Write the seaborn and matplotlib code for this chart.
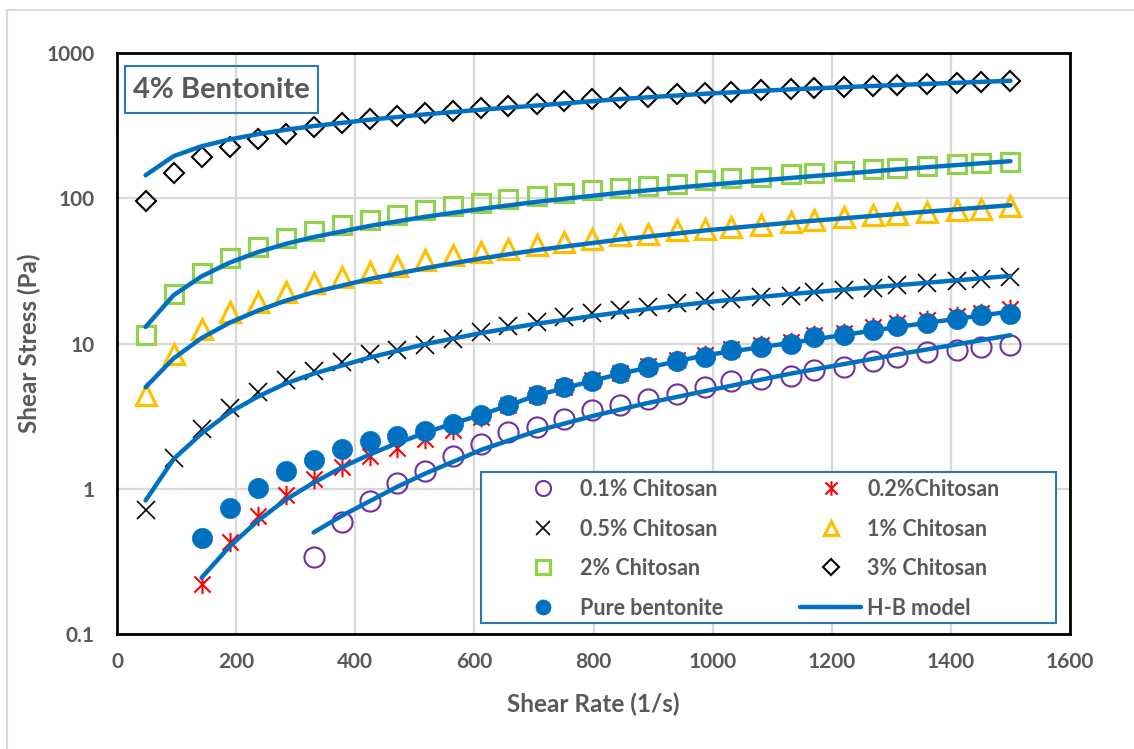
import matplotlib
matplotlib.use("Agg")
import matplotlib.pyplot as plt
from matplotlib.lines import Line2D
from matplotlib.path import Path
from matplotlib.patches import Rectangle
from matplotlib.ticker import NullLocator
import seaborn as sns

# shear rates of the measurement points (1/s)
SHEAR_RATE = [48, 95, 142, 189, 236, 283, 330, 377, 424, 470, 517, 564, 611, 657, 705, 751,
              797, 845, 892, 940, 987, 1031, 1082, 1131, 1170, 1220, 1270, 1310, 1360, 1410, 1450, 1500]

# measured shear stress (Pa)
chitosan_01 = [0.34, 0.59, 0.83, 1.1, 1.33, 1.69, 2.03, 2.44, 2.65, 3.03, 3.49, 3.8, 4.15,
               4.5, 5.0, 5.5, 5.7, 6.0, 6.6, 6.94, 7.55, 8.05, 8.72, 9.05, 9.44, 9.84]
chitosan_02 = [0.22, 0.43, 0.65, 0.9, 1.17, 1.42, 1.69, 1.9, 2.2, 2.55, 3.1, 3.75, 4.4, 5.0, 5.6,
               6.3, 6.95, 7.7, 8.3, 9.2, 9.7, 10.3, 11.4, 11.9, 12.9, 13.8, 14.4, 15.4, 16.3, 17.4]
chitosan_05 = [0.71, 1.64, 2.58, 3.58, 4.62, 5.62, 6.51, 7.43, 8.4, 9.0, 9.8, 10.8, 12.0, 13.1, 14.0,
               15.2, 16.2, 16.9, 17.8, 19.0, 19.6, 20.2, 20.9, 21.4, 22.6, 23.2, 24.2, 25.1, 26.1,
               26.9, 27.9, 28.7]
chitosan_1 = [4.4, 8.5, 12.6, 16.4, 19.3, 22.6, 25.9, 28.7, 31, 34, 37.4, 40.4, 42.6, 45, 48, 50,
              52.7, 55.6, 57.1, 60.1, 61.8, 63.4, 65.9, 68.7, 70.5, 74.3, 76.4, 78.4, 80.5, 82.7,
              84.9, 88.1]
chitosan_2 = [11.5, 22, 30.5, 38.5, 46, 53.5, 59.5, 65, 71, 77, 83.5, 88, 93, 99.5, 103, 109, 114,
              118, 121, 126, 133, 137, 140, 146, 149, 153, 158, 162, 166, 171, 175, 178]
chitosan_3 = [95, 149, 191, 226, 254, 279, 307, 328, 349, 368, 384, 398, 416, 431, 444, 467, 480,
              490, 500, 519, 527, 535, 556, 563, 577, 586, 595, 601, 612, 622, 634, 644]
pure_bentonite = [0.46, 0.74, 1.02, 1.32, 1.58, 1.88, 2.12, 2.32, 2.51, 2.79, 3.22, 3.8, 4.42, 5.0,
                  5.56, 6.24, 6.87, 7.56, 8.13, 9.05, 9.45, 9.95, 11.1, 11.5, 12.4, 13.3, 13.8,
                  14.8, 15.6, 16.0]

# H-B model curves
HB_X = [48, 95, 142, 189, 236, 283, 330, 424, 517, 611, 705, 845, 987, 1131, 1310, 1500]
hb_3 = [144, 195, 228, 254, 276, 296, 314, 347, 378, 407, 435, 482, 524, 562, 602, 644]
hb_2 = [13, 21.5, 29, 36, 42.5, 48.5, 54, 64.5, 74.5, 84.5, 94.5, 109, 123, 138, 158, 180]
hb_1 = [5.0, 7.9, 10.9, 13.9, 16.8, 19.7, 22.5, 27.8, 33.0, 38.5, 44, 52, 60, 68, 78, 89.5]
hb_05 = [0.83, 1.6, 2.4, 3.35, 4.3, 5.3, 6.2, 8.0, 9.9, 11.8, 13.7, 16.4, 19.2, 21.9, 25.2, 29.2]
HB_02_X = [142, 189, 236, 283, 330, 377, 424, 470, 517, 564, 611, 705, 845, 987, 1131, 1310, 1500]
hb_02 = [0.244, 0.40, 0.60, 0.84, 1.10, 1.40, 1.72, 2.06, 2.42, 2.82, 3.22, 4.4, 6.2, 8.3, 10.1,
         13.0, 16.6]
HB_01_X = [330, 377, 424, 470, 517, 611, 705, 800, 892, 987, 1131, 1310, 1500]
hb_01 = [0.5, 0.65, 0.82, 1.03, 1.27, 1.85, 2.5, 3.18, 3.9, 4.7, 6.2, 8.4, 11.4]

BLUE = "#0070C0"
TEXT = "#595959"
BOX = "#2E75B6"
ASTERISK = Path([(-1, -1), (1, 1), (-1, 1), (1, -1), (0, -1.2), (0, 1.2)],
                [Path.MOVETO, Path.LINETO] * 3)

# label, x, y, marker, size, face, edge, edge width
series = [
    ("0.1% Chitosan", SHEAR_RATE[6:], chitosan_01, "o", 14.5, "none", "#7030A0", 1.5),
    ("0.2%Chitosan", SHEAR_RATE[2:], chitosan_02, ASTERISK, 14, "none", "#FF0000", 1.5),
    ("0.5% Chitosan", SHEAR_RATE, chitosan_05, "x", 13, "none", "black", 1.2),
    ("1% Chitosan", SHEAR_RATE, chitosan_1, "^", 14, "none", "#FFC000", 2.3),
    ("2% Chitosan", SHEAR_RATE, chitosan_2, "s", 13.5, "none", "#92D050", 2.3),
    ("3% Chitosan", SHEAR_RATE, chitosan_3, "D", 10.2, "none", "black", 1.5),
    ("Pure bentonite", SHEAR_RATE[2:], pure_bentonite, "o", 14.5, BLUE, BLUE, 0.5),
]
models = [(HB_01_X, hb_01), (HB_02_X, hb_02), (HB_X, hb_05), (HB_X, hb_1), (HB_X, hb_2), (HB_X, hb_3)]

sns.set_theme(style="white")
plt.rcParams["font.family"] = ["Lato", "DejaVu Sans"]
plt.rcParams["font.weight"] = "bold"

W, H = 1134, 749
fig = plt.figure(figsize=(W / 100, H / 100), dpi=100)
ax = fig.add_axes([117 / W, 1 - 634 / H, (1070 - 117) / W, (634 - 53) / H])
ax.set_yscale("log")

for label, x, y, m, ms, fc, ec, mew in series:
    sns.lineplot(x=x, y=y, ax=ax, estimator=None, sort=False, linestyle="", marker=m,
                 markersize=ms, markerfacecolor=fc, markeredgecolor=ec, markeredgewidth=mew,
                 color=ec, zorder=3)

for x, y in models:
    sns.lineplot(x=x, y=y, ax=ax, estimator=None, sort=False, color=BLUE, linewidth=3.2, zorder=4)

ax.set_xlim(0, 1600)
ax.set_ylim(0.1, 1000)
ax.set_xticks(range(0, 1601, 200))
ax.set_yticks([0.1, 1, 10, 100, 1000], labels=["0.1", "1", "10", "100", "1000"])
ax.yaxis.set_minor_locator(NullLocator())
ax.tick_params(axis="both", length=0, labelsize=15, labelcolor=TEXT)
ax.tick_params(axis="y", pad=16)
ax.tick_params(axis="x", pad=13)
ax.grid(True, color="#D9D9D9", linewidth=1.6)
ax.set_axisbelow(True)
for s in ax.spines.values():
    s.set_color("black")
    s.set_linewidth(2)

ax.set_xlabel("Shear Rate (1/s)", fontsize=17.5, color=TEXT, fontweight="bold")
ax.set_ylabel("Shear Stress (Pa)", fontsize=17.5, color=TEXT, fontweight="bold")
ax.xaxis.set_label_coords(0.5, (634 - 704) / 581)
ax.yaxis.set_label_coords((29 - 117) / 953, 0.5)
ax.xaxis.label.set_va("center")
ax.yaxis.label.set_va("center")

# "4% Bentonite" box
fig.patches.append(Rectangle((125 / W, 1 - 113 / H), 193 / W, 47 / H, transform=fig.transFigure,
                             fill=False, edgecolor=BOX, linewidth=1.5, zorder=5))
fig.text(221.5 / W, 1 - 89.5 / H, "4% Bentonite", ha="center", va="center", fontsize=21,
         color=TEXT, fontweight="bold", zorder=6)

# legend
handles, labels = [], []
for label, x, y, m, ms, fc, ec, mew in series:
    handles.append(Line2D([], [], linestyle="", marker=m, markersize=ms * 0.75,
                          markerfacecolor=fc, markeredgecolor=ec, markeredgewidth=mew))
    labels.append(label)
handles.append(Line2D([], [], color=BLUE, linewidth=3.2))
labels.append("H-B model")
order = [0, 2, 4, 6, 1, 3, 5, 7]
fig.patches.append(Rectangle((481 / W, 1 - 623 / H), 575 / W, 151 / H, transform=fig.transFigure,
                             facecolor="white", edgecolor=BOX, linewidth=1.5, zorder=5))
leg = fig.legend([handles[i] for i in order], [labels[i] for i in order], ncol=2, frameon=False,
                 loc="upper left", bbox_to_anchor=(513 / W, 1 - 479 / H),
                 bbox_transform=fig.transFigure, fontsize=15.5, handlelength=2.8,
                 handletextpad=0.3, columnspacing=3.6, labelspacing=0.86, borderpad=0,
                 borderaxespad=0)
leg.set_zorder(7)
for t in leg.get_texts():
    t.set_color(TEXT)
    t.set_fontweight("bold")

# chart area border
fig.patches.append(Rectangle((7 / W, -0.1), 1.2, 1.1 - 10 / H, transform=fig.transFigure,
                             fill=False, edgecolor="#D9D9D9", linewidth=1.5, zorder=0))

fig.savefig("out.png", dpi=100)
